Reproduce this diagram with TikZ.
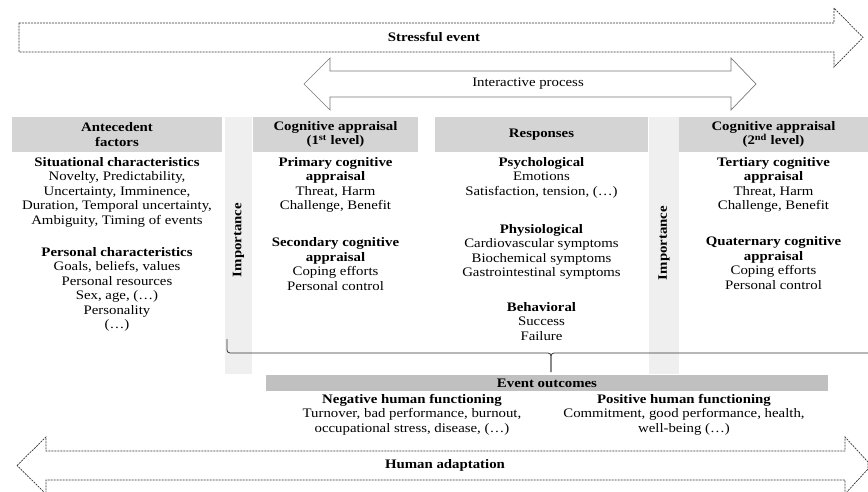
\documentclass[tikz,border=0pt]{standalone}
\usepackage{fontspec}
\setmainfont{Liberation Serif}[FakeStretch=1.14]
\usepackage{xcolor}
\usepackage{tikz}
\usetikzlibrary{positioning}

\definecolor{headgray}{RGB}{212,212,212}
\definecolor{colgray}{RGB}{239,239,239}
\definecolor{outgray}{RGB}{192,192,192}
\definecolor{arrowgray}{RGB}{120,120,120}
\definecolor{dashgray}{RGB}{50,50,50}

\begin{document}
\begin{tikzpicture}[
    x=1pt,
    y=-1pt,
    node distance=20pt,
    font=\fontsize{13}{14.5}\selectfont,
    headbar/.style={
        fill=headgray,
        inner sep=0pt,
        minimum height=35pt,
        align=center,
        font=\fontsize{13}{14.5}\selectfont\bfseries
    },
    importcol/.style={
        fill=colgray,
        inner sep=0pt,
        minimum height=257pt
    },
    importlabel/.style={
        rotate=90,
        inner sep=0pt,
        font=\fontsize{13}{14.5}\selectfont\bfseries
    },
    coltext/.style={
        align=center,
        inner sep=0pt,
        anchor=north
    },
    outbar/.style={
        fill=outgray,
        inner sep=0pt,
        minimum width=562pt,
        minimum height=16pt,
        font=\fontsize{13}{14.5}\selectfont\bfseries
    },
    dasharrow/.style={
        draw=dashgray,
        line width=0.7pt,
        dash pattern=on 2pt off 1pt
    },
    solidarrow/.style={
        draw=arrowgray,
        line width=0.7pt
    },
    bracket/.style={
        draw=black!80,
        line width=0.8pt,
        rounded corners=3pt
    }
]

\useasboundingbox (0,0) rectangle (868,492);

\node[importcol, minimum width=27pt] (impone) at (238.5,245.5) {};

\node[importcol, minimum width=30pt] (imptwo) at (664,245.5) {};

\node[importlabel] (imponetext) at (238.5,240) {Importance};

\node[importlabel] (imptwotext) at (664,243) {Importance};

\node[headbar, minimum width=210pt] (antehead) at (117,134.5) {Antecedent\\factors};

\node[headbar, minimum width=165pt] (cogonehead) at (335.5,134.5) {Cognitive appraisal\\(1\textsuperscript{st} level)};

\node[headbar, minimum width=213pt] (resphead) at (541.5,134.5) {Responses};

\node[headbar, minimum width=189pt] (cogtwohead) at (773.5,134.5) {Cognitive appraisal\\(2\textsuperscript{nd} level)};

\node[coltext] (situational) at (117,157) {
    \textbf{Situational characteristics}\\
    Novelty, Predictability,\\
    Uncertainty, Imminence,\\
    Duration, Temporal uncertainty,\\
    Ambiguity, Timing of events
};

\node[coltext, below=of situational] (personal) {
    \textbf{Personal characteristics}\\
    Goals, beliefs, values\\
    Personal resources\\
    Sex, age, (…)\\
    Personality\\
    (…)
};

\node[coltext] (primary) at (335.5,157) {
    \textbf{Primary cognitive}\\
    \textbf{appraisal}\\
    Threat, Harm\\
    Challenge, Benefit
};

\node[coltext, below=25pt of primary] (secondary) {
    \textbf{Secondary cognitive}\\
    \textbf{appraisal}\\
    Coping efforts\\
    Personal control
};

\node[coltext] (psychological) at (541.5,157) {
    \textbf{Psychological}\\
    Emotions\\
    Satisfaction, tension, (…)
};

\node[coltext, below=26pt of psychological] (physiological) {
    \textbf{Physiological}\\
    Cardiovascular symptoms\\
    Biochemical symptoms\\
    Gastrointestinal symptoms
};

\node[coltext, below=22pt of physiological] (behavioral) {
    \textbf{Behavioral}\\
    Success\\
    Failure
};

\node[coltext] (tertiary) at (773.5,157) {
    \textbf{Tertiary cognitive}\\
    \textbf{appraisal}\\
    Threat, Harm\\
    Challenge, Benefit
};

\node[coltext, below=24pt of tertiary] (quaternary) {
    \textbf{Quaternary cognitive}\\
    \textbf{appraisal}\\
    Coping efforts\\
    Personal control
};

\coordinate (bracketleft) at (227,339);
\coordinate (brackettip) at (551,372);
\coordinate (bracketright) at (868,353);

\draw[bracket] (bracketleft) |- (brackettip |- bracketright) -- (brackettip);

\draw[bracket] (bracketright) -| (brackettip);

\node[outbar] (outcomes) at (547,383) {Event outcomes};

\node[coltext] (negative) at (412,394) {
    \textbf{Negative human functioning}\\
    Turnover, bad performance, burnout,\\
    occupational stress, disease, (…)
};

\node[coltext] (positive) at (684,394) {
    \textbf{Positive human functioning}\\
    Commitment, good performance, health,\\
    well-being (…)
};

\node (stressfultext) at (434,37) {\textbf{Stressful event}};

\node (interactivetext) at (528,84) {Interactive process};

\node (adaptationtext) at (445,465.5) {\textbf{Human adaptation}};

\draw[dasharrow] (19,23) -- (834,23) -- (834,8) -- (863,37.5) -- (834,67) -- (834,52) -- (19,52) -- cycle;

\draw[solidarrow] (304,84) -- (330,58) -- (330,71) -- (731,71) -- (731,58) -- (756,84)
    -- (731,110) -- (731,97) -- (330,97) -- (330,110) -- cycle;

\draw[dasharrow] (17,465.5) -- (46,437) -- (46,451) -- (845,451) -- (845,437) -- (868,462)
    -- (868,469) -- (845,494) -- (845,480) -- (46,480) -- (46,494) -- cycle;

\end{tikzpicture}
\end{document}
